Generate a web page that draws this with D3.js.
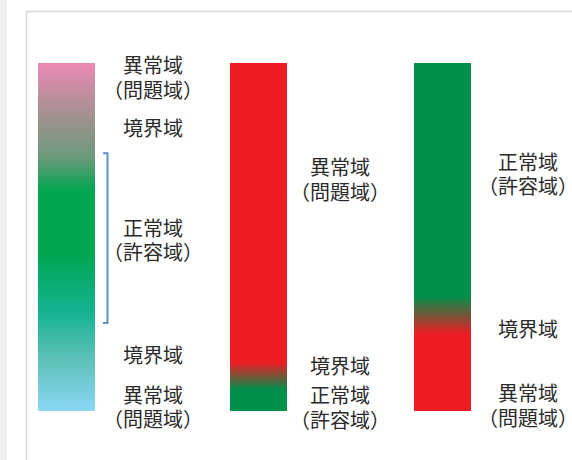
<!DOCTYPE html>
<html>
<head>
<meta charset="utf-8">
<script src="https://cdn.jsdelivr.net/npm/d3@7"></script>
<style>
  body { margin: 0; background: #fff; }
  svg { display: block; }
  text { font-family: "Noto Sans CJK JP", "Noto Sans", sans-serif; fill: #2b2b2b; }
</style>
</head>
<body>
<div id="chart"></div>
<script>
// columns (one per gauge)
const columns = ["gauge1", "gauge2", "gauge3"];

// gradient stops for each gauge: [level 0-100 bottom->top, colour key]
const stops1 = [[0, "sky"], [15, "teal2"], [28, "teal"], [45, "green"], [63, "green"], [73, "olive"], [85, "gray"], [100, "pink"]];
const stops2 = [[0, "dgreen"], [6, "dgreen"], [14, "red"], [100, "red"]];
const stops3 = [[0, "red"], [22, "red"], [33, "dgreen"], [100, "dgreen"]];

// zone labels: [level, lines]
const labels1 = [[96, ["異常域", "（問題域）"]], [81.5, ["境界域"]], [49.3, ["正常域", "（許容域）"]], [16.1, ["境界域"]], [1.3, ["異常域", "（問題域）"]]];
const labels2 = [[66.6, ["異常域", "（問題域）"]], [13.1, ["境界域"]], [1.2, ["正常域", "（許容域）"]]];
const labels3 = [[68.2, ["正常域", "（許容域）"]], [23.6, ["境界域"]], [1.7, ["異常域", "（問題域）"]]];

// tolerance bracket on the first gauge: [low, high]
const bracket1 = [25.3, 74.1];

const stops = [stops1, stops2, stops3];
const labels = [labels1, labels2, labels3];

const palette = {
  pink: "#ec88b6", gray: "#a3918f", olive: "#6c9a7b", green: "#00a651",
  teal: "#17b394", teal2: "#5dc0b6", sky: "#8bd7f6",
  red: "#ed1c24", dgreen: "#00904c"
};

const width = 572, height = 460;
const barW = 57;

const svg = d3.select("#chart").append("svg")
  .attr("width", width)
  .attr("height", height);

// page furniture: side strip and panel border
svg.append("rect").attr("x", 0).attr("y", 0).attr("width", 7).attr("height", height).attr("fill", "#eef0f1");
svg.append("path")
  .attr("d", `M26.5,${height} V11.5 H${width}`)
  .attr("fill", "none")
  .attr("stroke", "#d9d9d9")
  .attr("stroke-width", 1.5);

const y = d3.scaleLinear().domain([0, 100]).range([411, 63]);
const x = d3.scaleOrdinal().domain(columns).range([38, 230, 414]);
const labelX = d3.scaleOrdinal().domain(columns).range([153, 340, 528]);

const defs = svg.append("defs");

columns.forEach((c, i) => {
  const grad = defs.append("linearGradient")
    .attr("id", "g" + i)
    .attr("x1", 0).attr("y1", 0).attr("x2", 0).attr("y2", 1);
  // svg wants stops in ascending offset, so walk from the top level down
  const sorted = stops[i].slice().sort((a, b) => b[0] - a[0]);
  grad.selectAll("stop").data(sorted).enter().append("stop")
    .attr("offset", d => (100 - d[0]) / 100)
    .attr("stop-color", d => palette[d[1]]);

  svg.append("rect")
    .attr("x", x(c))
    .attr("y", y(100))
    .attr("width", barW)
    .attr("height", y(0) - y(100))
    .attr("fill", `url(#g${i})`);

  const lineH = 24.5;
  const g = svg.append("g");
  labels[i].forEach(d => {
    const lines = d[1];
    const top = y(d[0]) - (lines.length - 1) * lineH / 2;
    lines.forEach((t, k) => {
      g.append("text")
        .attr("x", labelX(c))
        .attr("y", top + k * lineH)
        .attr("text-anchor", "middle")
        .attr("dominant-baseline", "central")
        .attr("font-size", 20)
        .text(t);
    });
  });
});

// bracket
const bx = 107.5;
svg.append("path")
  .attr("d", `M103,${y(bracket1[1])} H${bx} V${y(bracket1[0])} H103`)
  .attr("fill", "none")
  .attr("stroke", "#5b93c9")
  .attr("stroke-width", 2);
</script>
</body>
</html>
